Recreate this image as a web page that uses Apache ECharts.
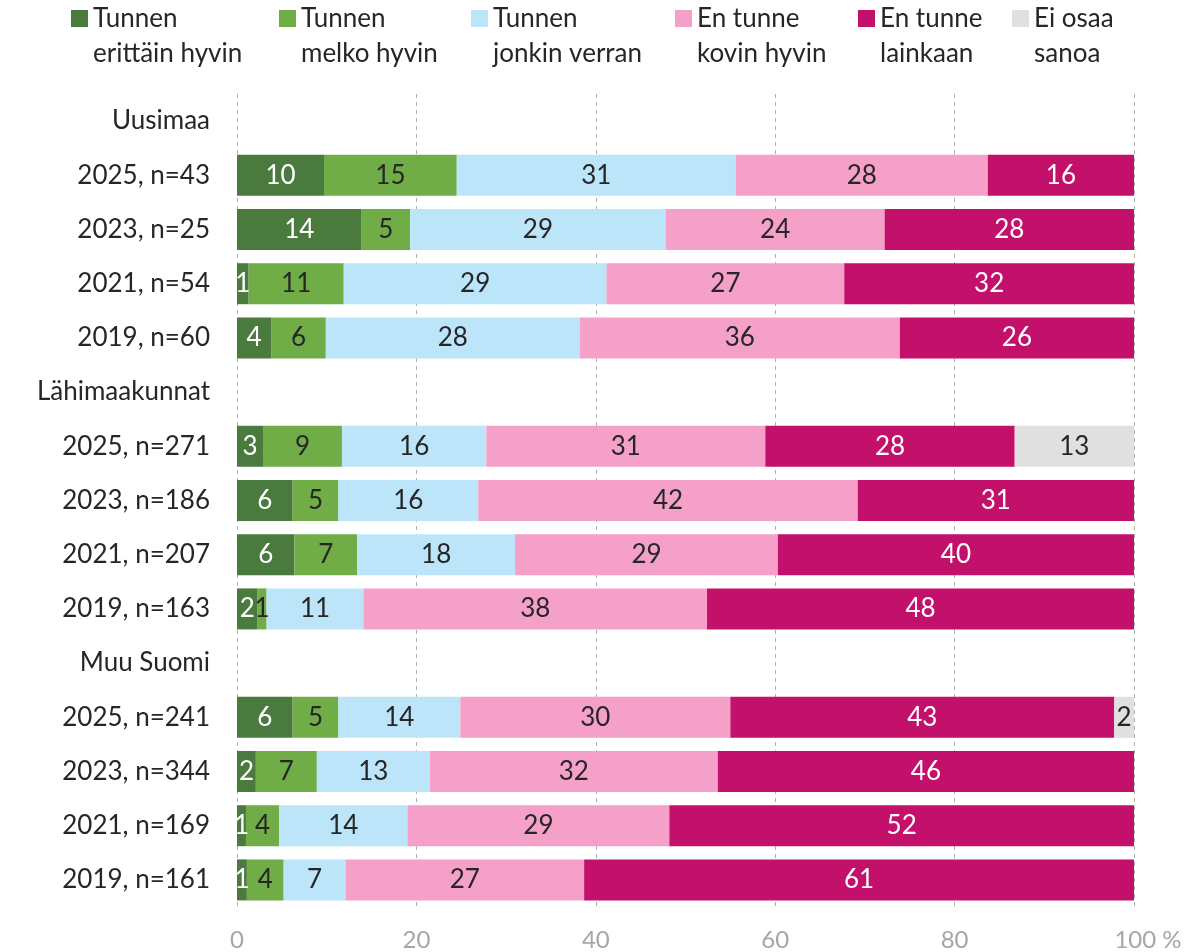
<!DOCTYPE html>
<html>
<head>
<meta charset="utf-8">
<script src="https://cdn.jsdelivr.net/npm/echarts@6/dist/echarts.min.js"></script>
<style>
  html, body { margin: 0; padding: 0; background: #fff; }
  #chart { width: 1188px; height: 952px; }
</style>
</head>
<body>
<div id="chart"></div>
<script>
// rivit ylhäältä alas (otsikkorivit ilman arvoja)
var categories = ['Uusimaa', '2025, n=43', '2023, n=25', '2021, n=54', '2019, n=60',
  'Lähimaakunnat', '2025, n=271', '2023, n=186', '2021, n=207', '2019, n=163',
  'Muu Suomi', '2025, n=241', '2023, n=344', '2021, n=169', '2019, n=161'];

var seriesNames = ['Tunnen\nerittäin hyvin', 'Tunnen\nmelko hyvin', 'Tunnen\njonkin verran',
  'En tunne\nkovin hyvin', 'En tunne\nlainkaan', 'Ei osaa\nsanoa'];

var erittainHyvin = [null, 9.7, 13.9, 1.3, 3.8, null, 2.9, 6.2, 6.4, 2.3, null, 6.2, 2.1, 1.0, 1.1];
var melkoHyvin    = [null, 14.8, 5.4, 10.6, 6.1, null, 8.8, 5.1, 7.0, 1.0, null, 5.1, 6.8, 3.7, 4.1];
var jonkinVerran  = [null, 31.1, 28.5, 29.3, 28.3, null, 16.1, 15.6, 17.6, 10.8, null, 13.6, 12.6, 14.3, 6.9];
var kovinHyvin    = [null, 28.1, 24.4, 26.5, 35.7, null, 31.1, 42.3, 29.3, 38.3, null, 30.1, 32.1, 29.2, 26.6];
var lainkaan      = [null, 16.3, 27.8, 32.3, 26.1, null, 27.8, 30.8, 39.7, 47.6, null, 42.8, 46.4, 51.8, 61.3];
var eiOsaa        = [null, null, null, null, null, null, 13.3, null, null, null, null, 2.2, null, null, null];

var xTicks = [0, 20, 40, 60, 80, 100];

var colors = ['#4b7a3f', '#70ad47', '#bde5f9', '#f4a0c8', '#c2106b', '#e0e0e0'];
var labelColors = ['#fff', '#262626', '#262626', '#262626', '#fff', '#262626'];
var allData = [erittainHyvin, melkoHyvin, jonkinVerran, kovinHyvin, lainkaan, eiOsaa];

var FONT = 'Lato';
var FS = 26;
var legendLeft = [71, 279, 471, 675, 858, 1012];

var legends = seriesNames.map(function (n, i) {
  return {
    data: [n],
    left: legendLeft[i],
    top: -34,
    padding: 0,
    orient: 'horizontal',
    itemWidth: 17,
    itemHeight: 17,
    icon: 'rect',
    selectedMode: false,
    // tyhjä rivi ensin, jotta merkki osuu ensimmäisen rivin kohdalle
    formatter: function (name) { return ' \n' + name; },
    textStyle: { fontFamily: FONT, fontSize: FS, color: '#262626', lineHeight: 35 }
  };
});

var series = seriesNames.map(function (n, i) {
  return {
    name: n,
    type: 'bar',
    stack: 'total',
    barWidth: 41,
    data: allData[i],
    itemStyle: { color: colors[i] },
    label: {
      show: true,
      position: 'inside',
      fontFamily: FONT,
      fontSize: FS,
      color: labelColors[i],
      formatter: function (p) {
        return p.value == null ? '' : String(Math.round(p.value));
      }
    }
  };
});

var chart = echarts.init(document.getElementById('chart'));
chart.setOption({
  animation: false,
  legend: legends,
  grid: { left: 237, right: 54, top: 94, bottom: 45, containLabel: false },
  xAxis: {
    type: 'value',
    min: 0, max: 100, interval: 20,
    axisLine: { show: false },
    axisTick: { show: false },
    splitLine: { show: true, lineStyle: { color: '#b0b0b0', type: [4, 4], width: 1 } },
    axisLabel: {
      margin: 21,
      fontFamily: FONT, fontSize: 24, color: '#a6a6a6',
      formatter: function (v) {
        return xTicks.indexOf(v) === xTicks.length - 1 ? '{p|' + v + ' %}' : String(v);
      },
      rich: { p: { fontFamily: FONT, fontSize: 24, color: '#a6a6a6', padding: [0, 0, 0, 28] } }
    }
  },
  yAxis: {
    type: 'category',
    data: categories,
    inverse: true,
    axisLine: { show: false },
    axisTick: { show: false },
    axisLabel: { margin: 27, fontFamily: FONT, fontSize: FS, color: '#262626' }
  },
  series: series
});
</script>
</body>
</html>
